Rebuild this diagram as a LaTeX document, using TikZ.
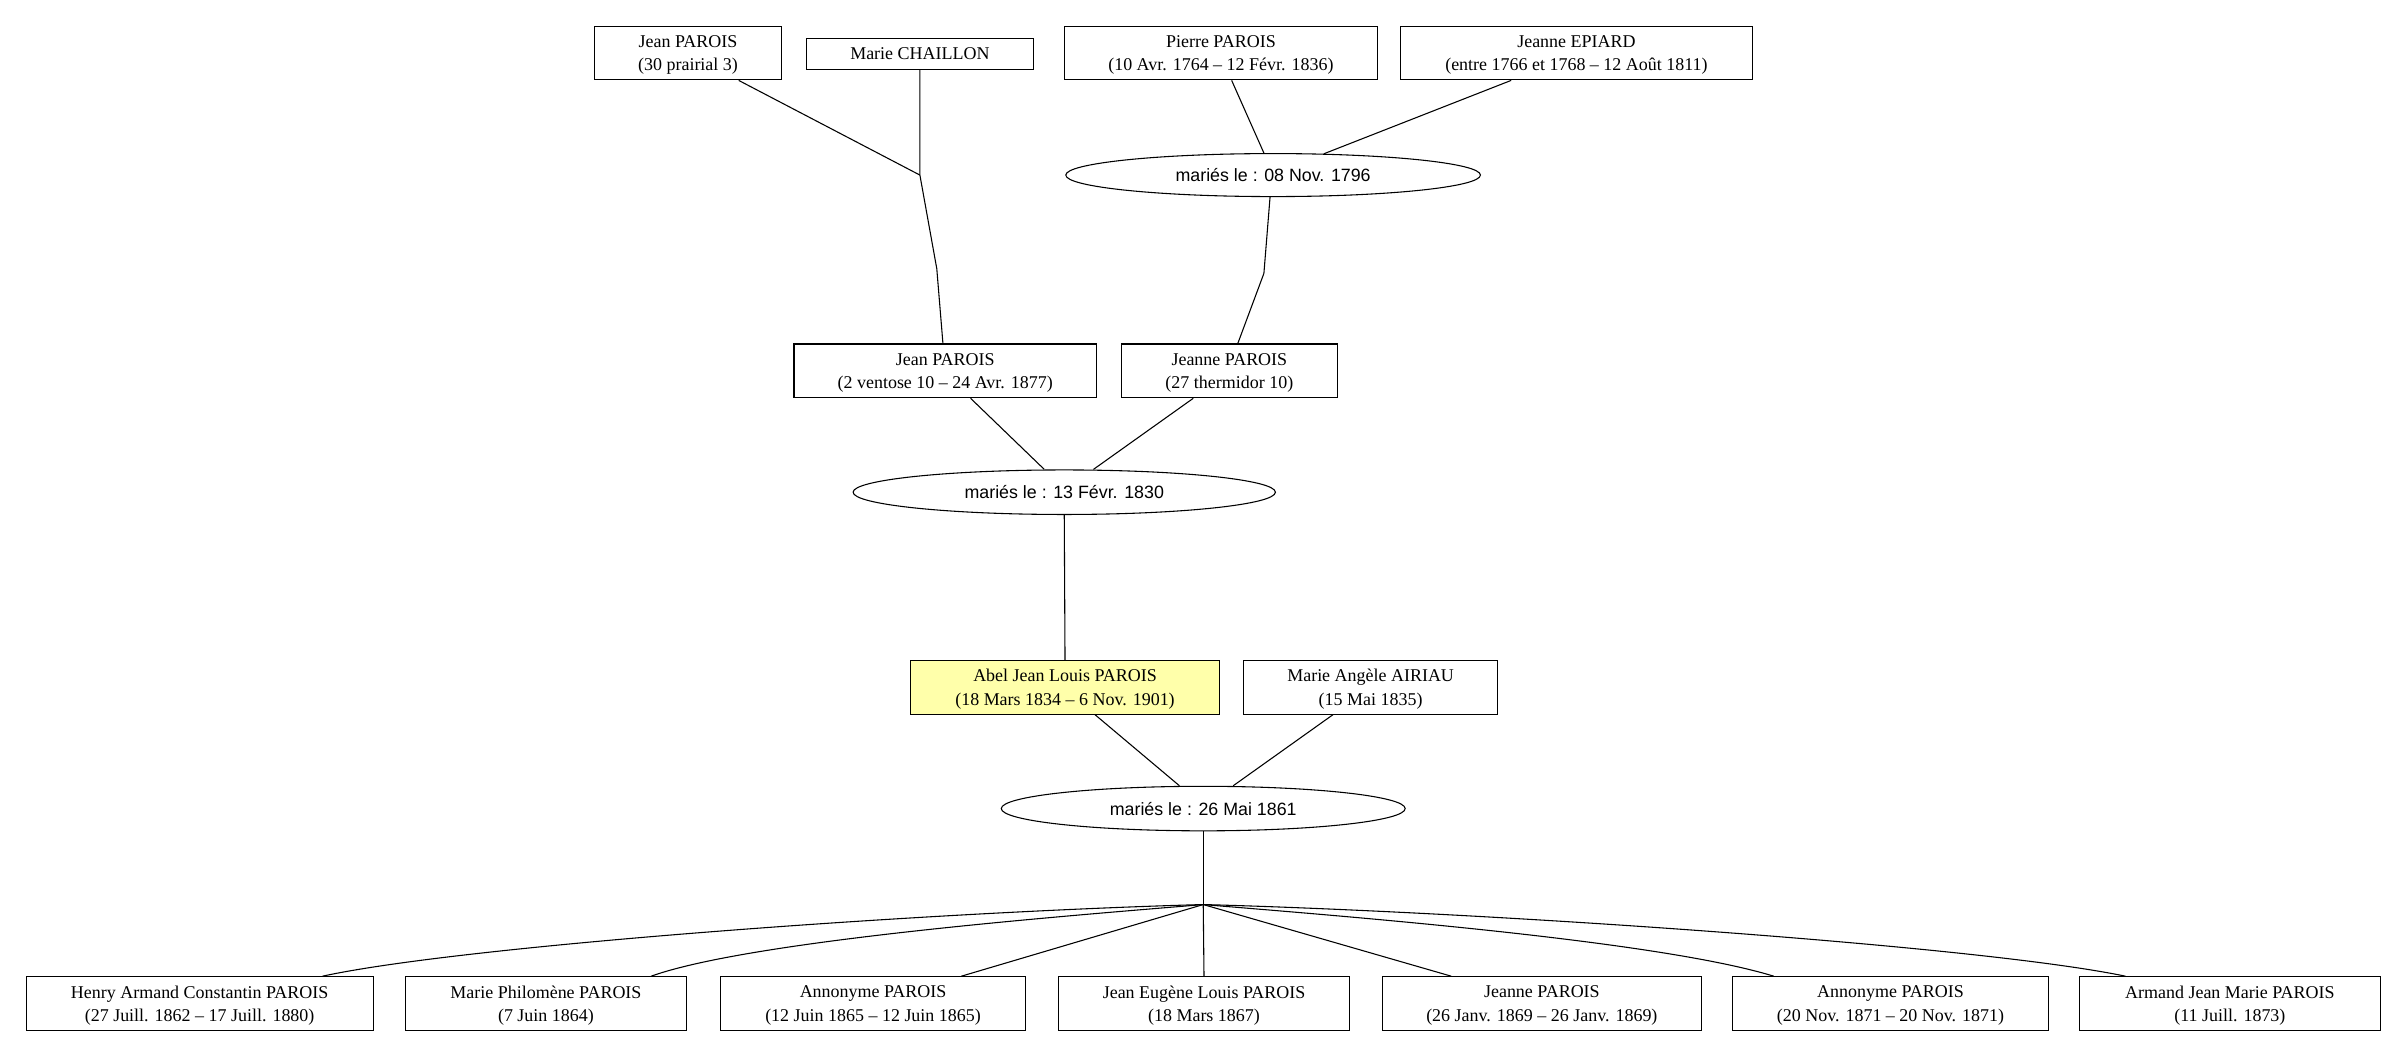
\documentclass[tikz,border=0pt]{standalone}
\usepackage{fontspec}
\setmainfont{Liberation Serif}
\newfontfamily\labsans{Liberation Sans}
\usetikzlibrary{calc,shapes.geometric}
\definecolor{selyellow}{HTML}{FFFFAA}
\tikzset{
  person/.style={draw=black, line width=0.7pt, rectangle, inner sep=0pt, align=center,
    minimum height=35pt, text depth=-0.6pt, font=\fontsize{11.7}{15.4}\selectfont},
  marriage/.style={draw=black, line width=0.7pt, ellipse, inner sep=0pt,
    minimum height=29pt, font=\labsans\fontsize{11.6}{14}\selectfont},
  link/.style={draw=black, line width=0.7pt}
}
\begin{document}
\begin{tikzpicture}[x=1pt,y=-1pt]
\useasboundingbox (0,0) rectangle (1568,689);
% generation 1
\node[person, minimum width=122pt] (jp1) at (448,34.5) {Jean PAROIS\\(30 prairial 3)};
\node[person, minimum width=148pt, minimum height=20pt] (mc) at (599,35) {Marie CHAILLON};
\node[person, minimum width=204pt] (pp) at (795,34.5) {Pierre PAROIS\\(10 Avr. 1764 -- 12 Févr. 1836)};
\node[person, minimum width=229pt] (je) at (1026.5,34.5) {Jeanne EPIARD\\(entre 1766 et 1768 -- 12 Août 1811)};
\node[marriage, minimum width=270pt, minimum height=28pt] (m1) at (829,114) {mariés le : 08 Nov. 1796};
\coordinate (j1) at (599,114);
% generation 2
\node[person, minimum width=197pt] (jp2) at (615.5,241.5) {Jean PAROIS\\(2 ventose 10 -- 24 Avr. 1877)};
\node[person, minimum width=141pt] (jnp) at (800.5,241.5) {Jeanne PAROIS\\(27 thermidor 10)};
\node[marriage, minimum width=275pt] (m2) at (693,320.5) {mariés le : 13 Févr. 1830};
% generation 3
\node[person, minimum width=201pt, fill=selyellow] (abel) at (693.5,447.5) {Abel Jean Louis PAROIS\\(18 Mars 1834 -- 6 Nov. 1901)};
\node[person, minimum width=165pt] (maa) at (892.5,447.5) {Marie Angèle AIRIAU\\(15 Mai 1835)};
\node[marriage, minimum width=263pt] (m3) at (783.5,526.5) {mariés le : 26 Mai 1861};
\coordinate (j2) at (783.5,589);
% children
\node[person, minimum width=226pt] (c1) at (130,653.5) {Henry Armand Constantin PAROIS\\(27 Juill. 1862 -- 17 Juill. 1880)};
\node[person, minimum width=183pt] (c2) at (355.5,653.5) {Marie Philomène PAROIS\\(7 Juin 1864)};
\node[person, minimum width=199pt] (c3) at (568.5,653.5) {Annonyme PAROIS\\(12 Juin 1865 -- 12 Juin 1865)};
\node[person, minimum width=190pt] (c4) at (784,653.5) {Jean Eugène Louis PAROIS\\(18 Mars 1867)};
\node[person, minimum width=208pt] (c5) at (1004,653.5) {Jeanne PAROIS\\(26 Janv. 1869 -- 26 Janv. 1869)};
\node[person, minimum width=206pt] (c6) at (1231,653.5) {Annonyme PAROIS\\(20 Nov. 1871 -- 20 Nov. 1871)};
\node[person, minimum width=196pt] (c7) at (1452,653.5) {Armand Jean Marie PAROIS\\(11 Juill. 1873)};
% connectors generation 1 -> 2
\draw[link] ($(jp1.south)+(33,0)$) -- (j1);
\draw[link] (mc.south) -- (j1) -- (610,175) -- ($(jp2.north)+(-1.5,0)$);
\draw[link] ($(pp.south)+(7,0)$) -- ($(m1.north)+(-6,0)$);
\draw[link] ($(je.south)+(-42.5,0)$) -- ($(m1.north)+(33,0.5)$);
\draw[link] ($(m1.south)+(-2,0)$) -- (823,178) -- ($(jnp.north)+(5.5,0)$);
% generation 2 -> 3
\draw[link] ($(jp2.south)+(16.5,0)$) -- ($(m2.north)+(-13,0)$);
\draw[link] ($(jnp.south)+(-23.5,0)$) -- ($(m2.north)+(19,0)$);
\draw[link] (m2.south) -- (abel.north);
% generation 3 -> children
\draw[link] ($(abel.south)+(19.5,0)$) -- ($(m3.north)+(-15.5,0)$);
\draw[link] ($(maa.south)+(-24.5,0)$) -- ($(m3.north)+(19.5,0)$);
\draw[link] (m3.south) -- (j2);
\draw[link] (j2) .. controls (600,594) and (300,616) .. ($(c1.north)+(80,0)$);
\draw[link] (j2) .. controls (700,596) and (490,612) .. ($(c2.north)+(68.5,0)$);
\draw[link] (j2) -- ($(c3.north)+(57.5,0)$);
\draw[link] (j2) -- (c4.north);
\draw[link] (j2) -- ($(c5.north)+(-59,0)$);
\draw[link] (j2) .. controls (867,596) and (1078,612) .. ($(c6.north)+(-76,0)$);
\draw[link] (j2) .. controls (970,594) and (1290,616) .. ($(c7.north)+(-68,0)$);
\end{tikzpicture}
\end{document}
